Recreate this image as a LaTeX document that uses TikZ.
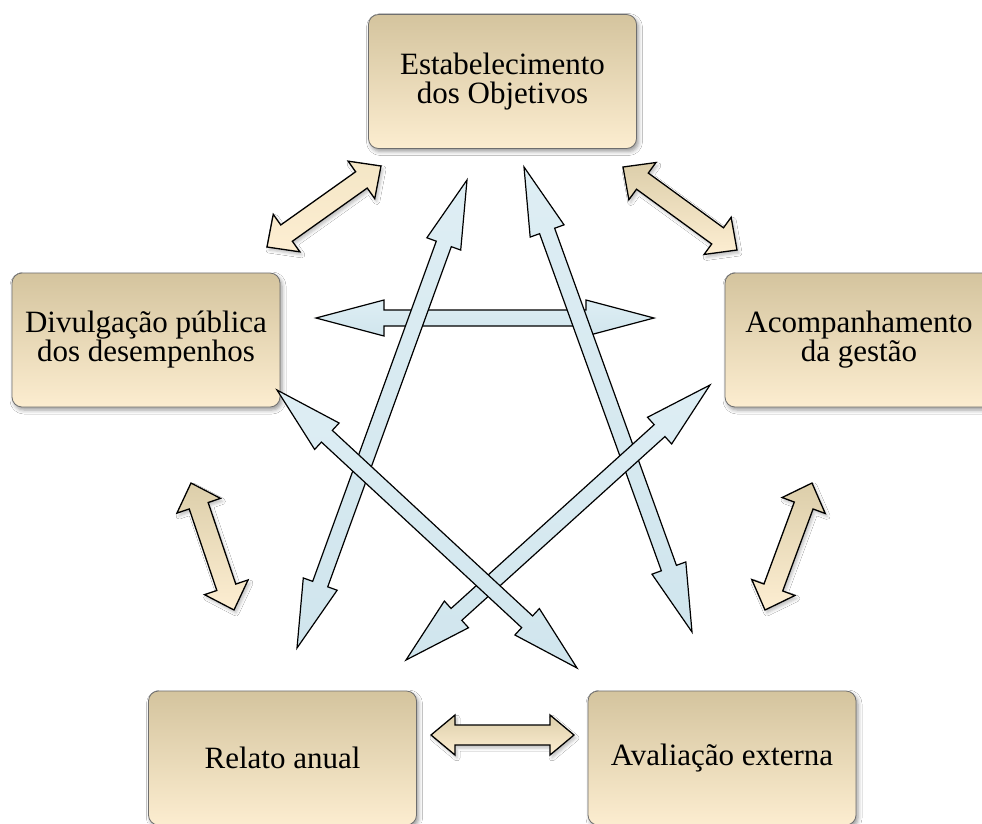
\documentclass[tikz,border=0pt]{standalone}
\usepackage{fontspec}
\setmainfont{Liberation Serif}
\usetikzlibrary{calc,shadows.blur}

\definecolor{boxtop}{RGB}{212,196,158}
\definecolor{boxmid}{RGB}{241,233,210}
\definecolor{boxbot}{RGB}{252,237,208}
\definecolor{boxline}{RGB}{110,110,110}
\definecolor{beigetop}{RGB}{220,206,170}
\definecolor{beigepale}{RGB}{244,230,198}
\definecolor{beigebot}{RGB}{253,238,210}
\definecolor{bluetop}{RGB}{222,238,244}
\definecolor{bluebot}{RGB}{208,229,237}

% Double-headed block arrow between two named points:
% #1 style, #2 start, #3 end, #4 shaft half width, #5 head half width, #6 head length
\newcommand\dblarrow[6]{%
  \path[#1] (#2)
    -- ($(#2)!#6!(#3)!#5!90:(#3)$)
    -- ($(#2)!#6!(#3)!#4!90:(#3)$)
    -- ($(#3)!#6!(#2)!#4!-90:(#2)$)
    -- ($(#3)!#6!(#2)!#5!-90:(#2)$)
    -- (#3)
    -- ($(#3)!#6!(#2)!#5!90:(#2)$)
    -- ($(#3)!#6!(#2)!#4!90:(#2)$)
    -- ($(#2)!#6!(#3)!#4!-90:(#3)$)
    -- ($(#2)!#6!(#3)!#5!-90:(#3)$)
    -- cycle;}

\begin{document}
\begin{tikzpicture}[x=1pt,y=-1pt,
  stagebox/.style={rectangle, rounded corners=10pt, draw=boxline, line width=0.8pt,
    top color=boxtop, middle color=boxmid, bottom color=boxbot,
    minimum width=268pt, minimum height=134pt, inner sep=0pt, align=center,
    font=\fontsize{31}{29}\selectfont,
    blur shadow={shadow xshift=2pt, shadow yshift=-3pt, shadow blur radius=4pt, shadow opacity=40}},
  beigearrow/.style={draw=black, line width=1.3pt, line join=miter,
    top color=beigetop, bottom color=beigebot,
    blur shadow={shadow xshift=2pt, shadow yshift=-3pt, shadow blur radius=3pt, shadow opacity=25}},
  palearrow/.style={beigearrow, top color=beigepale, bottom color=beigebot},
  bluearrow/.style={draw=black, line width=1.2pt, line join=miter,
    top color=bluetop, bottom color=bluebot}]

\clip (0,0) rectangle (982,823);
\fill[white] (0,0) rectangle (982,823);

% the five stages
\node[stagebox] (obj)    at (502.5,81.5) {Estabelecimento\\dos Objetivos};
\node[stagebox] (div)    at (146,340)    {Divulgação pública\\dos desempenhos};
\node[stagebox] (acomp)  at (859,340)    {Acompanhamento\\da gestão};
\node[stagebox] (relato) at (282.5,758)  {Relato anual};
\node[stagebox] (aval)   at (722,758)    {Avaliação externa};

% end points of the cycle arrows
\coordinate (c1a) at (267,247);  \coordinate (c1b) at (381,166);
\coordinate (c2a) at (623,167);  \coordinate (c2b) at (737,250);
\coordinate (c3a) at (191,483);  \coordinate (c3b) at (234,610);
\coordinate (c4a) at (812,483);  \coordinate (c4b) at (765,610);
\coordinate (c5a) at (431,735);  \coordinate (c5b) at (574,735);

% end points of the star arrows
\coordinate (sa1) at (316,318);  \coordinate (sa2) at (654,318);
\coordinate (sb1) at (467,180);  \coordinate (sb2) at (297,648);
\coordinate (sc1) at (524,167);  \coordinate (sc2) at (692,632);
\coordinate (sd1) at (710,385);  \coordinate (sd2) at (406,660);
\coordinate (se1) at (277,390);  \coordinate (se2) at (577,668);

% cycle arrows between neighbouring stages
\dblarrow{palearrow}{c1a}{c1b}{10pt}{23pt}{24pt}
\dblarrow{beigearrow}{c2a}{c2b}{10pt}{23pt}{24pt}
\dblarrow{beigearrow}{c3a}{c3b}{10pt}{23pt}{24pt}
\dblarrow{beigearrow}{c4a}{c4b}{10pt}{23pt}{24pt}
\dblarrow{beigearrow}{c5a}{c5b}{10pt}{20pt}{24pt}

% star arrows linking non-neighbouring stages
\dblarrow{bluearrow}{sa1}{sa2}{8pt}{18pt}{68pt}
\dblarrow{bluearrow}{sc1}{sc2}{8pt}{18pt}{68pt}
\dblarrow{bluearrow}{sd1}{sd2}{8pt}{18pt}{68pt}
\dblarrow{bluearrow}{sb1}{sb2}{8pt}{18pt}{68pt}
\dblarrow{bluearrow}{se1}{se2}{8pt}{18pt}{68pt}

\end{tikzpicture}
\end{document}
